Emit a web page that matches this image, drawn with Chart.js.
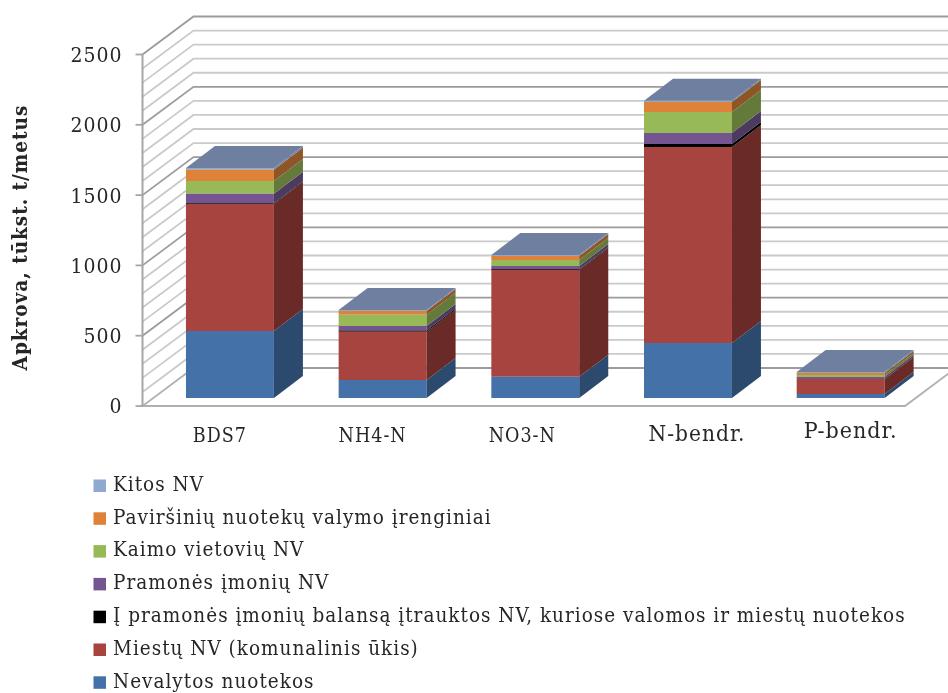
<!DOCTYPE html>
<html>
<head>
<meta charset="utf-8">
<style>
  html, body { margin: 0; padding: 0; background: #fff; }
  #wrap { width: 948px; height: 693px; }
</style>
<script src="https://cdn.jsdelivr.net/npm/chart.js@4"></script>
</head>
<body>
<div id="wrap"><canvas id="apkrova" width="948" height="693"></canvas></div>
<script>
// kt/metus per pollutant, one array per source, bottom of the stack first
const categories = ['BDS7', 'NH4-N', 'NO3-N', 'N-bendr.', 'P-bendr.'];
const nevalytos = [476, 128, 151, 391, 28];
const miestu    = [904, 344, 759, 1394, 107];
const balansas  = [6, 8, 5, 21, 1];
const pramones  = [67, 32, 24, 79, 13];
const kaimo     = [90, 80, 42, 149, 15];
const pavirsiniu = [81, 27, 29, 71, 14];
const kitos     = [12, 7, 7, 10, 7];
const yTicks = [0, 500, 1000, 1500, 2000, 2500];

const seriesNames = [
  'Nevalytos nuotekos',
  'Miestų NV (komunalinis ūkis)',
  'Į pramonės įmonių balansą įtrauktos NV, kuriose valomos ir miestų nuotekos',
  'Pramonės įmonių NV',
  'Kaimo vietovių NV',
  'Paviršinių nuotekų valymo įrenginiai',
  'Kitos NV'
];
const seriesValues = [nevalytos, miestu, balansas, pramones, kaimo, pavirsiniu, kitos];
const faceColors = ['#4472a8', '#a8443f', '#000000', '#75558f', '#98b958', '#de8139', '#8fa8d0'];
const sideColors = ['#2c4a6e', '#6a2a28', '#000000', '#4c3a60', '#647a3a', '#8e5526', '#6f7f9f'];
const topColor = '#6f7f9f';

const serif = '"DejaVu Serif Condensed", "DejaVu Serif", serif';
const textColor = '#262626';

// wall and bar depth in px
const wall = { dx: 51, dy: -38, front: 8, left: 142.5, right: 905 };
const barDepth = { dx: 29, dy: -22 };

// category labels sit by hand in the source layout: [x shift, y below the bars, size]
const xLabelShift = [[-10, 39, 19.5], [-10, 39, 19.5], [-13, 39, 19.5], [9, 37, 22.5], [10, 34, 23]];

const box3d = {
  id: 'box3d',
  beforeDraw(chart) {
    chart.ctx.letterSpacing = '1px';
  },
  beforeDatasetsDraw(chart) {
    const { ctx } = chart;
    const y = chart.scales.y;
    const line = (pts, color, width) => {
      ctx.beginPath();
      pts.forEach((p, i) => i ? ctx.lineTo(p[0], p[1]) : ctx.moveTo(p[0], p[1]));
      ctx.strokeStyle = color;
      ctx.lineWidth = width;
      ctx.stroke();
    };
    ctx.save();
    // side wall and back wall rules, every 100
    for (let v = 100; v <= 2500; v += 100) {
      const py = y.getPixelForValue(v) + wall.front;
      const major = v % 500 === 0;
      line([[wall.left, py], [wall.left + wall.dx, py + wall.dy],
            [wall.right + wall.dx, py + wall.dy]],
           major ? '#9c9c9c' : '#cacaca', 1.8);
    }
    // floor outline, then the vertical axis with its ticks
    const p0 = y.getPixelForValue(0) + wall.front;
    const pMax = y.getPixelForValue(2500) + wall.front;
    line([[wall.left + wall.dx, p0 + wall.dy], [wall.right + wall.dx, p0 + wall.dy]], '#9c9c9c', 1.8);
    line([[wall.left + wall.dx, p0 + wall.dy], [wall.left, p0], [wall.right, p0],
          [wall.right + wall.dx, p0 + wall.dy]], '#b0b0b0', 1.8);
    line([[wall.left, p0], [wall.left, pMax]], '#a6a6a6', 2);
    yTicks.forEach(v => {
      const py = y.getPixelForValue(v) + wall.front;
      line([[wall.left - 7, py], [wall.left, py]], '#a6a6a6', 1.8);
    });
    ctx.restore();
  },
  afterDatasetsDraw(chart) {
    const { ctx } = chart;
    ctx.save();
    const last = seriesValues.length - 1;
    seriesValues.forEach((vals, i) => {
      chart.getDatasetMeta(i).data.forEach(bar => {
        const right = bar.x + bar.width / 2;
        const left = bar.x - bar.width / 2;
        ctx.fillStyle = sideColors[i];
        ctx.beginPath();
        ctx.moveTo(right, bar.y);
        ctx.lineTo(right + barDepth.dx, bar.y + barDepth.dy);
        ctx.lineTo(right + barDepth.dx, bar.base + barDepth.dy);
        ctx.lineTo(right, bar.base);
        ctx.closePath();
        ctx.fill();
        if (i === last) {
          ctx.fillStyle = topColor;
          ctx.beginPath();
          ctx.moveTo(left, bar.y);
          ctx.lineTo(left + barDepth.dx, bar.y + barDepth.dy);
          ctx.lineTo(right + barDepth.dx, bar.y + barDepth.dy);
          ctx.lineTo(right, bar.y);
          ctx.closePath();
          ctx.fill();
        }
      });
    });
    ctx.restore();
  },
  afterDraw(chart) {
    const { ctx } = chart;
    const x = chart.scales.x;
    const y = chart.scales.y;
    ctx.save();
    ctx.fillStyle = textColor;

    // category labels
    ctx.textAlign = 'center';
    ctx.textBaseline = 'middle';
    categories.forEach((name, i) => {
      const s = xLabelShift[i];
      ctx.font = s[2] + 'px ' + serif;
      ctx.fillText(name, x.getPixelForTick(i) + s[0], y.bottom + s[1]);
    });

    // axis title
    ctx.save();
    ctx.translate(22, 237.5);
    ctx.rotate(-Math.PI / 2);
    ctx.font = 'bold 20.5px ' + serif;
    ctx.fillText('Apkrova, tūkst. t/metus', 0, 0);
    ctx.restore();

    // legend, last series on top
    ctx.textAlign = 'left';
    ctx.font = '20.5px ' + serif;
    for (let i = 0; i < seriesNames.length; i++) {
      const row = seriesNames.length - 1 - i;
      const cy = 485.5 + row * 32.8;
      ctx.fillStyle = faceColors[i];
      ctx.fillRect(93.5, cy - 6, 12.5, 12.5);
      ctx.fillStyle = textColor;
      ctx.fillText(seriesNames[i], 113, cy);
    }
    ctx.restore();
  }
};

new Chart(document.getElementById('apkrova'), {
  type: 'bar',
  data: {
    labels: categories,
    datasets: seriesNames.map((name, i) => ({
      label: name,
      data: seriesValues[i],
      backgroundColor: faceColors[i],
      categoryPercentage: 1,
      barPercentage: 0.576
    }))
  },
  options: {
    responsive: false,
    animation: false,
    layout: { padding: { top: 46.5, right: 31, bottom: 295, left: 0 } },
    plugins: { legend: { display: false }, tooltip: { enabled: false } },
    scales: {
      x: {
        stacked: true,
        afterFit(scale) { scale.height = 0; },
        grid: { display: false },
        border: { display: false },
        ticks: { display: false }
      },
      y: {
        stacked: true,
        min: 0,
        max: 2500,
        afterFit(scale) { scale.width = 153.6; },
        afterBuildTicks(scale) { scale.ticks = yTicks.map(v => ({ value: v })); },
        grid: { display: false, drawTicks: false },
        border: { display: false },
        ticks: {
          padding: 31,
          labelOffset: 10,
          color: textColor,
          font: { family: serif, size: 21 },
          callback: v => String(v)
        }
      }
    }
  },
  plugins: [box3d]
});
</script>
</body>
</html>
